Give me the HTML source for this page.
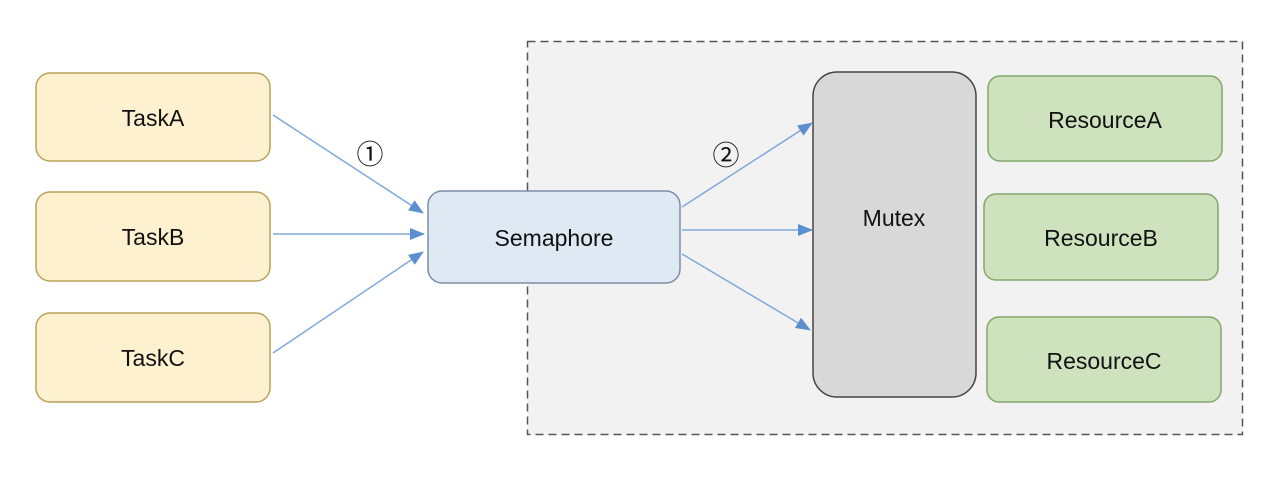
<!DOCTYPE html>
<html><head><meta charset="utf-8"><style>
body{margin:0;width:1274px;height:474px;background:#fff;overflow:hidden}
</style></head><body>
<svg width="1274" height="474" xmlns="http://www.w3.org/2000/svg" font-family="'Liberation Sans','Noto Sans CJK KR',sans-serif">
<defs><marker id="a" markerWidth="15" markerHeight="12" refX="14" refY="6" orient="auto" markerUnits="userSpaceOnUse"><path d="M0,0 L15,6 L0,12 z" fill="#5b8fd0"/></marker></defs>
<rect x="527.5" y="41.5" width="715" height="393" fill="#f2f2f2" stroke="#555" stroke-width="1.5" stroke-dasharray="8,5"/>
<g stroke="#b8a25a" stroke-width="1.5" fill="#fdf1cf">
<rect x="36" y="73" width="234" height="88" rx="14"/>
<rect x="36" y="192" width="234" height="89" rx="14"/>
<rect x="36" y="313" width="234" height="89" rx="14"/>
</g>
<rect x="428" y="191" width="252" height="92" rx="14" fill="#dfe9f4" stroke="#7a8ea8" stroke-width="1.5"/>
<rect x="813" y="72" width="163" height="325" rx="24" fill="#d8d8d8" stroke="#444" stroke-width="1.5"/>
<g stroke="#82a86a" stroke-width="1.5" fill="#cfe2be">
<rect x="988" y="76" width="234" height="85" rx="12"/>
<rect x="984" y="194" width="234" height="86" rx="12"/>
<rect x="987" y="317" width="234" height="85" rx="12"/>
</g>
<g stroke="#7fa8dc" stroke-width="1.5" marker-end="url(#a)">
<line x1="273" y1="115" x2="423" y2="213"/>
<line x1="273" y1="234" x2="424" y2="234"/>
<line x1="273" y1="353" x2="423" y2="252"/>
<line x1="682" y1="207" x2="812" y2="123"/>
<line x1="682" y1="230" x2="812" y2="230"/>
<line x1="682" y1="254" x2="810" y2="330"/>
</g>
<g font-size="23" fill="#111" text-anchor="middle">
<text x="153" y="126">TaskA</text>
<text x="153" y="245">TaskB</text>
<text x="153" y="366">TaskC</text>
<text x="554" y="246">Semaphore</text>
<text x="894" y="226">Mutex</text>
<text x="1105" y="128">ResourceA</text>
<text x="1101" y="246">ResourceB</text>
<text x="1104" y="369">ResourceC</text>
<text x="370" y="164" font-size="27">①</text>
<text x="726" y="165" font-size="27">②</text>
</g>
</svg>
</body></html>
